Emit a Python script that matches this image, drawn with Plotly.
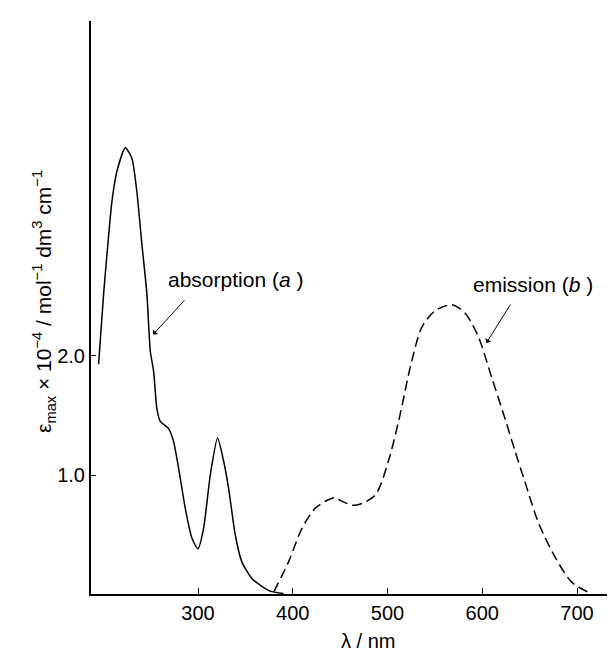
import plotly.graph_objects as go

# Absorption spectrum (a): wavelength / nm and epsilon x 1e-4
abs_wl = [195, 200.3, 203.8, 209.1, 214.3, 223.2, 230.2, 235.4, 240.7, 246, 249.6,
          253.1, 256.5, 260.1, 268.9, 274.2, 279.4, 286.5, 293.5, 299.8, 305.8,
          312.9, 320.6, 326.9, 332.2, 339.2, 346.2, 356.8, 367.3, 377.8, 390]
abs_eps = [1.93, 2.52, 2.85, 3.30, 3.55, 3.75, 3.66, 3.38, 2.94, 2.52, 2.04,
           1.87, 1.56, 1.45, 1.39, 1.28, 1.06, 0.72, 0.47, 0.38, 0.55,
           1.0, 1.31, 1.12, 0.89, 0.50, 0.27, 0.13, 0.065, 0.02, 0.005]

# Emission spectrum (b)
em_wl = [380, 395.5, 409.5, 423.6, 437, 444.7, 451.7, 465.8, 486.9, 501, 513.3,
         523.8, 536.1, 550.2, 567.7, 581.9, 595.9, 609.9, 624.1, 634.6, 645.1,
         659.2, 676.8, 694.3, 713]
em_eps = [0.02, 0.27, 0.55, 0.72, 0.79, 0.81, 0.78, 0.745, 0.83, 1.12, 1.51,
          1.90, 2.24, 2.38, 2.43, 2.36, 2.16, 1.82, 1.47, 1.20, 0.94,
          0.60, 0.31, 0.10, 0.01]

x_ticks = [300, 400, 500, 600, 700]
y_ticks = [1.0, 2.0]

FONT = "Liberation Sans, Arial, Helvetica, sans-serif"

fig = go.Figure()
fig.add_trace(go.Scatter(x=abs_wl, y=abs_eps, mode="lines", name="absorption (a)",
                         line=dict(color="black", width=1.5, shape="spline", smoothing=0.6)))
fig.add_trace(go.Scatter(x=em_wl, y=em_eps, mode="lines", name="emission (b)",
                         line=dict(color="black", width=1.5, dash="10px,5px",
                                   shape="spline", smoothing=0.8)))

fig.update_layout(
    width=615, height=653,
    margin=dict(l=83, r=0, t=13, b=67),
    paper_bgcolor="white", plot_bgcolor="white",
    showlegend=False,
    font=dict(family=FONT, size=20, color="black"),
    xaxis=dict(range=[187, 748.5], tickvals=x_ticks, ticks="inside", ticklen=6,
               tickwidth=1.2, tickcolor="black", showline=True, linecolor="black",
               linewidth=1.6, showgrid=False, zeroline=False,
               tickfont=dict(size=20, family=FONT)),
    yaxis=dict(range=[0, 4.815], tickvals=y_ticks, tickformat=".1f", ticks="inside",
               ticklen=5, tickwidth=1.2, tickcolor="black", showline=True,
               linecolor="black", linewidth=2, showgrid=False, zeroline=False,
               tickfont=dict(size=20, family=FONT)),
)

fig.add_annotation(x=252.5, y=2.18, ax=287, ay=2.48, axref="x", ayref="y",
                   xref="x", yref="y", text="", showarrow=True, arrowhead=1,
                   arrowsize=1.2, arrowwidth=1, arrowcolor="black")
fig.add_annotation(x=339, y=2.64, xref="x", yref="y", showarrow=False,
                   text="absorption (<i>a</i> )", font=dict(size=21, family=FONT))

fig.add_annotation(x=604.3, y=2.11, ax=630.7, ay=2.445, axref="x", ayref="y",
                   xref="x", yref="y", text="", showarrow=True, arrowhead=1,
                   arrowsize=1.2, arrowwidth=1, arrowcolor="black")
fig.add_annotation(x=653.6, y=2.60, xref="x", yref="y", showarrow=False,
                   text="emission (<i>b</i> )", font=dict(size=21, family=FONT))

fig.add_annotation(x=-0.088, y=0.51, xref="paper", yref="paper", showarrow=False,
                   textangle=-90, xanchor="center", yanchor="middle",
                   text="ε<sub>max</sub> × 10<sup>−4</sup> / mol<sup>−1</sup> dm<sup>3</sup> cm<sup>−1</sup>",
                   font=dict(size=21, family=FONT))
fig.add_annotation(x=0.52, y=-0.082, xref="paper", yref="paper", showarrow=False,
                   xanchor="center", yanchor="middle", text="λ / nm",
                   font=dict(size=20, family=FONT))

fig.write_html("out.html")
